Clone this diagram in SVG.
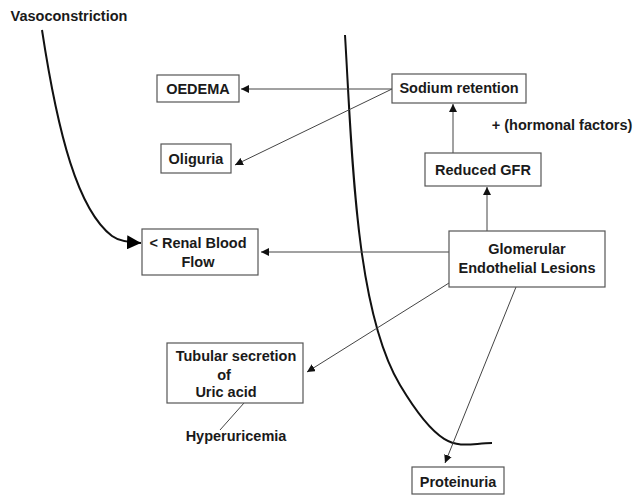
<svg xmlns="http://www.w3.org/2000/svg" width="633" height="495" viewBox="0 0 633 495">
<defs>
<style>
text{font-family:"Liberation Sans",Arial,sans-serif;font-weight:bold;font-size:14.5px;fill:#1a1a1a;text-anchor:middle}
.box{fill:#fff;stroke:#555;stroke-width:1.2}
.c{fill:none;stroke:#444;stroke-width:1}
.curve{fill:none;stroke:#111;stroke-width:2}
</style>
<marker id="a" viewBox="0 0 10 10" refX="10" refY="5" markerWidth="8" markerHeight="8" markerUnits="userSpaceOnUse" orient="auto"><path d="M0,0L10,5L0,10z" fill="#111"/></marker>
<marker id="b" viewBox="0 0 10 10" refX="10" refY="5" markerWidth="14" markerHeight="14" markerUnits="userSpaceOnUse" orient="auto"><path d="M0,0L10,5L0,10z" fill="#000"/></marker>
</defs>
<g id="curves">
<path class="curve" d="M42,30 C58,135 78,210 112,236 Q120,242 141,243" marker-end="url(#b)"/>
<path class="curve" d="M345,35 C352,150 355,310 400,385 S460,443 492,443"/>
</g>
<g id="connectors">
<line class="c" x1="392" y1="89" x2="241" y2="89" marker-end="url(#a)"/>
<line class="c" x1="392" y1="89" x2="235" y2="165" marker-end="url(#a)"/>
<line class="c" x1="453" y1="153" x2="453" y2="104" marker-end="url(#a)"/>
<line class="c" x1="487" y1="231" x2="487" y2="187" marker-end="url(#a)"/>
<line class="c" x1="449" y1="252" x2="261" y2="252" marker-end="url(#a)"/>
<line class="c" x1="449" y1="283" x2="307" y2="372" marker-end="url(#a)"/>
<line class="c" x1="516" y1="287" x2="445" y2="463" marker-end="url(#a)"/>
<line class="c" x1="244" y1="403" x2="220" y2="430"/>
</g>
<g id="vasoconstriction"><text x="69" y="21">Vasoconstriction</text></g>
<g id="oedema"><rect class="box" x="157" y="75" width="82" height="27"/><text x="198" y="94">OEDEMA</text></g>
<g id="oliguria"><rect class="box" x="161" y="144" width="70" height="29"/><text x="196" y="164">Oliguria</text></g>
<g id="sodium"><rect class="box" x="392" y="74" width="134" height="29"/><text x="459" y="93">Sodium retention</text></g>
<g id="hormonal"><text x="562" y="130">+ (hormonal factors)</text></g>
<g id="gfr"><rect class="box" x="425" y="153" width="116" height="33"/><text x="483" y="175">Reduced GFR</text></g>
<g id="rbf"><rect class="box" x="142" y="229" width="116" height="46"/><text x="198" y="248">&lt; Renal Blood</text><text x="198" y="267">Flow</text></g>
<g id="glomerular"><rect class="box" x="449" y="231" width="156" height="56"/><text x="527" y="254">Glomerular</text><text x="527" y="273">Endothelial Lesions</text></g>
<g id="tubular"><rect class="box" x="167" y="343" width="136" height="60"/><text x="236" y="361">Tubular secretion</text><text x="224" y="380">of</text><text x="226" y="397">Uric acid</text></g>
<g id="hyperuricemia"><text x="236" y="441">Hyperuricemia</text></g>
<g id="proteinuria"><rect class="box" x="412" y="467" width="92" height="27"/><text x="458" y="487">Proteinuria</text></g>
</svg>
